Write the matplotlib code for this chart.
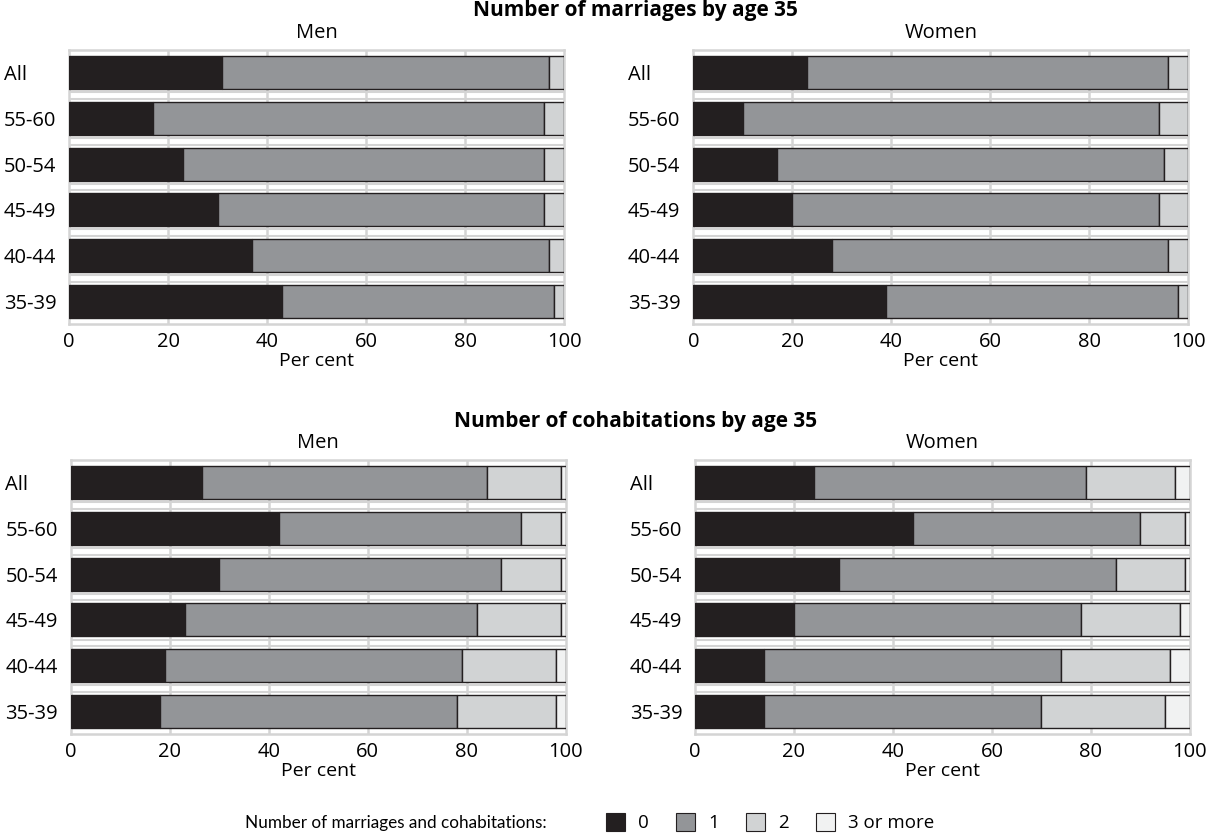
import numpy as np
import matplotlib
matplotlib.use('Agg')
import matplotlib.pyplot as plt
from matplotlib.patches import Patch

plt.rcParams['font.family'] = ['Open Sans', 'DejaVu Sans']

# Age groups, top row first
groups = ['All', '55-60', '50-54', '45-49', '40-44', '35-39']

# Number of marriages by age 35 (per cent): 0, 1, 2+
men_marr_0 = [31, 17, 23, 30, 37, 43]
men_marr_1 = [66, 79, 73, 66, 60, 55]
men_marr_2 = [3, 4, 4, 4, 3, 2]

women_marr_0 = [23, 10, 17, 20, 28, 39]
women_marr_1 = [73, 84, 78, 74, 68, 59]
women_marr_2 = [4, 6, 5, 6, 4, 2]

# Number of cohabitations by age 35 (per cent): 0, 1, 2, 3 or more
men_coh_0 = [26.5, 42, 30, 23, 19, 18]
men_coh_1 = [57.5, 49, 57, 59, 60, 60]
men_coh_2 = [15, 8, 12, 17, 19, 20]
men_coh_3 = [1, 1, 1, 1, 2, 2]

women_coh_0 = [24, 44, 29, 20, 14, 14]
women_coh_1 = [55, 46, 56, 58, 60, 56]
women_coh_2 = [18, 9, 14, 20, 22, 25]
women_coh_3 = [3, 1, 1, 2, 4, 5]

legend_labels = ['0', '1', '2', '3 or more']
colors = ['#231f20', '#939598', '#d1d3d4', '#f1f2f2']
edge = '#231f20'
grid_col = '#d4d4d4'


def stacked(ax, series, title):
    y = np.arange(len(groups))
    left = np.zeros(len(groups))
    for vals, col in zip(series, colors):
        vals = np.array(vals, dtype=float)
        ax.barh(y, vals, left=left, height=0.72, color=col,
                edgecolor=edge, linewidth=1.0, zorder=3)
        left += vals
    ax.set_xlim(0, 100)
    ax.set_ylim(len(groups) - 0.5, -0.5)
    ax.set_yticks(y)
    ax.set_yticklabels([])
    # row labels, left aligned about 65 px left of the axes
    for yi, g in zip(y, groups):
        ax.text(-0.132, yi, g, transform=ax.get_yaxis_transform(),
                ha='left', va='center_baseline', fontsize=14.5)
    ax.set_xticks([0, 20, 40, 60, 80, 100])
    ax.tick_params(length=0, labelsize=14.5, pad=6)
    for yl in np.arange(len(groups) - 1) + 0.5:
        ax.axhline(yl - 0.07, color=grid_col, lw=1.5, zorder=1)
        ax.axhline(yl + 0.07, color=grid_col, lw=1.5, zorder=1)
    for xv in [20, 40, 60, 80]:
        ax.axvline(xv, color=grid_col, lw=1.8, zorder=1)
    for s in ax.spines.values():
        s.set_color(grid_col)
        s.set_linewidth(1.8)
    ax.set_xlabel('Per cent', fontsize=14, labelpad=0)
    ax.set_title(title, fontsize=14.5, pad=9)


fig = plt.figure(figsize=(12.07, 8.39), dpi=100)
w = 0.4101
h = 0.3266
ax1 = fig.add_axes([0.0572, 0.6138, w, h])
ax2 = fig.add_axes([0.5744, 0.6138, w, h])
ax3 = fig.add_axes([0.0586, 0.1251, w, h])
ax4 = fig.add_axes([0.5758, 0.1251, w, h])

stacked(ax1, [men_marr_0, men_marr_1, men_marr_2], 'Men')
stacked(ax2, [women_marr_0, women_marr_1, women_marr_2], 'Women')
stacked(ax3, [men_coh_0, men_coh_1, men_coh_2, men_coh_3], 'Men')
stacked(ax4, [women_coh_0, women_coh_1, women_coh_2, women_coh_3], 'Women')

fig.text(0.5265, 0.9995, 'Number of marriages by age 35', ha='center', va='top',
         fontsize=15, fontweight='bold')
fig.text(0.5265, 0.5105, 'Number of cohabitations by age 35', ha='center', va='top',
         fontsize=15, fontweight='bold')

fig.text(0.4525, 0.0135, 'Number of marriages and cohabitations:', ha='right',
         va='baseline', fontsize=12.3, family=['Lato', 'DejaVu Sans'])
handles = [Patch(facecolor=c, edgecolor=edge, linewidth=0.8) for c in colors]
fig.legend(handles, legend_labels, loc='lower left', bbox_to_anchor=(0.4885, -0.012),
           ncol=4, frameon=False, fontsize=13.5, handlelength=1.0, handleheight=1.1,
           handletextpad=0.7, columnspacing=1.45)

fig.savefig('out.png', dpi=100)
